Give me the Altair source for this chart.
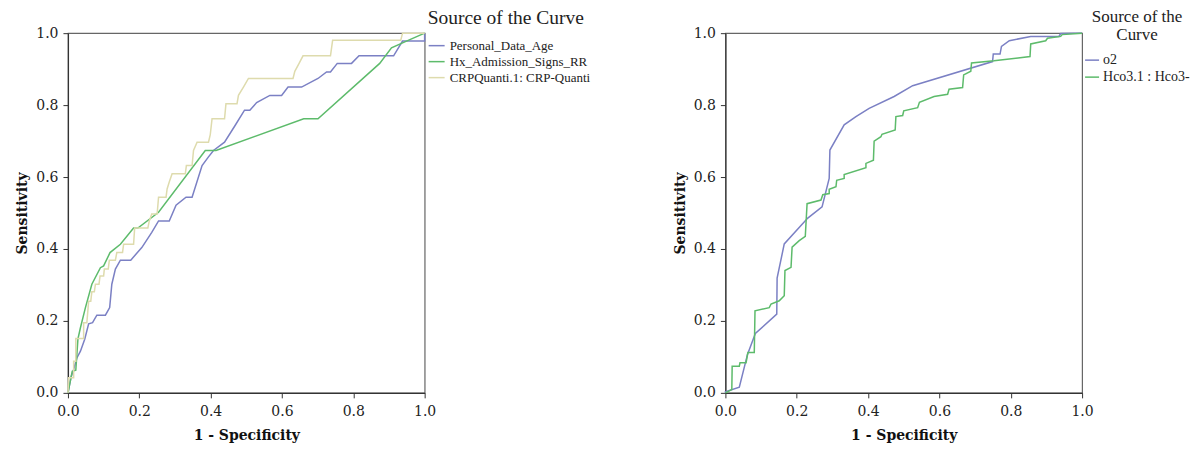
import altair as alt
import pandas as pd

# ---------------- Left panel data ----------------
left_names = ["Personal_Data_Age", "Hx_Admission_Signs_RR", "CRPQuanti.1: CRP-Quanti"]
left_colors = ["#7b80c4", "#5dbb6b", "#dedbad"]

age_fpr = [0, 0.009, 0.016, 0.025, 0.035, 0.047, 0.058, 0.069, 0.081, 0.105, 0.117, 0.123, 0.133, 0.147,
           0.176, 0.207, 0.235, 0.254, 0.284, 0.303, 0.331, 0.348, 0.376, 0.394, 0.408, 0.439, 0.469,
           0.495, 0.51, 0.529, 0.566, 0.599, 0.617, 0.655, 0.701, 0.725, 0.736, 0.755, 0.795, 0.816,
           0.913, 0.938, 1.0, 1.0]
age_tpr = [0, 0.045, 0.065, 0.097, 0.116, 0.149, 0.192, 0.195, 0.216, 0.216, 0.237, 0.302, 0.344, 0.369,
           0.369, 0.404, 0.446, 0.478, 0.478, 0.522, 0.544, 0.544, 0.632, 0.656, 0.674, 0.697, 0.744,
           0.786, 0.786, 0.807, 0.827, 0.827, 0.85, 0.85, 0.874, 0.892, 0.892, 0.916, 0.916, 0.937,
           0.937, 0.978, 0.978, 1.0]

rr_fpr = [0, 0.006, 0.012, 0.022, 0.028, 0.035, 0.049, 0.067, 0.091, 0.1, 0.118, 0.147, 0.184, 0.196,
          0.254, 0.385, 0.415, 0.661, 0.701, 0.874, 0.907, 0.949, 1.0]
rr_tpr = [0, 0.03, 0.06, 0.063, 0.15, 0.181, 0.237, 0.302, 0.348, 0.353, 0.39, 0.413, 0.458, 0.458,
          0.502, 0.674, 0.674, 0.762, 0.762, 0.916, 0.959, 0.978, 1.0]

crp_fpr = [0, 0.002, 0.016, 0.016, 0.022, 0.022, 0.044, 0.044, 0.053, 0.058, 0.064, 0.067, 0.074, 0.077,
           0.087, 0.09, 0.1, 0.102, 0.113, 0.116, 0.133, 0.137, 0.153, 0.156, 0.184, 0.187, 0.224, 0.228,
           0.235, 0.25, 0.254, 0.275, 0.278, 0.284, 0.292, 0.329, 0.332, 0.348, 0.352, 0.362, 0.394,
           0.399, 0.404, 0.439, 0.443, 0.474, 0.478, 0.492, 0.506, 0.631, 0.636, 0.648, 0.659, 0.736,
           0.742, 0.933, 0.938, 1.0]
crp_tpr = [0, 0.042, 0.042, 0.088, 0.088, 0.151, 0.151, 0.195, 0.195, 0.255, 0.255, 0.281, 0.281, 0.302,
           0.302, 0.325, 0.325, 0.344, 0.344, 0.369, 0.369, 0.39, 0.39, 0.413, 0.413, 0.458, 0.458, 0.478,
           0.497, 0.497, 0.544, 0.544, 0.567, 0.586, 0.609, 0.609, 0.632, 0.632, 0.674, 0.697, 0.697,
           0.718, 0.762, 0.762, 0.804, 0.804, 0.827, 0.85, 0.874, 0.874, 0.894, 0.916, 0.937, 0.937,
           0.98, 0.98, 1.0, 1.0]

# ---------------- Right panel data ----------------
right_names = ["o2", "Hco3.1 : Hco3-"]
right_colors = ["#7b80c4", "#5dbb6b"]

o2_fpr = [0, 0.0, 0.039, 0.062, 0.084, 0.144, 0.145, 0.165, 0.231, 0.271, 0.291, 0.293, 0.333, 0.366,
          0.403, 0.473, 0.525, 0.749, 0.751, 0.77, 0.774, 0.796, 0.856, 0.935, 0.94, 0.977, 1.0]
o2_tpr = [0, 0.003, 0.016, 0.107, 0.165, 0.219, 0.319, 0.414, 0.486, 0.517, 0.596, 0.675, 0.745, 0.768,
          0.791, 0.824, 0.854, 0.921, 0.942, 0.942, 0.963, 0.979, 0.991, 0.991, 0.999, 1.0, 1.0]

hco3_fpr = [0, 0.018, 0.019, 0.039, 0.041, 0.058, 0.063, 0.081, 0.083, 0.123, 0.128, 0.151, 0.165, 0.167,
            0.184, 0.187, 0.207, 0.224, 0.229, 0.268, 0.273, 0.291, 0.291, 0.31, 0.312, 0.333, 0.333,
            0.394, 0.394, 0.415, 0.417, 0.436, 0.439, 0.476, 0.478, 0.497, 0.5, 0.539, 0.544, 0.585,
            0.623, 0.627, 0.665, 0.668, 0.688, 0.69, 0.753, 0.854, 0.856, 0.898, 0.903, 0.94, 0.944, 1.0]
hco3_tpr = [0, 0.009, 0.074, 0.074, 0.084, 0.084, 0.112, 0.112, 0.228, 0.237, 0.247, 0.256, 0.27, 0.34,
            0.349, 0.405, 0.423, 0.435, 0.526, 0.536, 0.551, 0.554, 0.566, 0.573, 0.591, 0.596, 0.607,
            0.626, 0.638, 0.647, 0.7, 0.712, 0.719, 0.731, 0.768, 0.771, 0.784, 0.793, 0.808, 0.824,
            0.83, 0.844, 0.849, 0.884, 0.894, 0.917, 0.923, 0.935, 0.97, 0.979, 0.986, 0.991, 0.996, 1.0]

tick_values = [0.0, 0.2, 0.4, 0.6, 0.8, 1.0]


def frame(fpr, tpr, name):
    return pd.DataFrame({"fpr": fpr, "tpr": tpr, "curve": name, "idx": list(range(len(fpr)))})


left_df = pd.concat([frame(age_fpr, age_tpr, left_names[0]),
                     frame(rr_fpr, rr_tpr, left_names[1]),
                     frame(crp_fpr, crp_tpr, left_names[2])])
right_df = pd.concat([frame(o2_fpr, o2_tpr, right_names[0]),
                      frame(hco3_fpr, hco3_tpr, right_names[1])])

TICK_FONT = "DejaVu Serif"
TITLE_FONT = "DejaVu Serif"
LEG_FONT = "Liberation Serif"


def panel(df, names, colors, legend):
    return alt.Chart(df).mark_line(strokeWidth=1.5).encode(
        x=alt.X("fpr:Q", scale=alt.Scale(domain=[0, 1], nice=False),
                axis=alt.Axis(values=tick_values, format=".1f", title="1 - Specificity", grid=False,
                              labelPadding=7, titlePadding=10)),
        y=alt.Y("tpr:Q", scale=alt.Scale(domain=[0, 1], nice=False),
                axis=alt.Axis(values=tick_values, format=".1f", title="Sensitivity", grid=False,
                              labelPadding=5, titlePadding=6)),
        color=alt.Color("curve:N", scale=alt.Scale(domain=names, range=colors), legend=legend),
        order=alt.Order("idx:Q"),
    ).properties(width=357, height=360)


left_legend = alt.Legend(title="Source of the Curve", orient="none", legendX=360, legendY=-24,
                         symbolType="stroke", symbolSize=256, symbolStrokeWidth=1.5,
                         titleFont=LEG_FONT, titleFontSize=19.5, titleFontWeight="normal", titleColor="#222",
                         titlePadding=8, labelFont=LEG_FONT, labelFontSize=13, labelColor="#222",
                         rowPadding=0, labelOffset=4, labelLimit=300, titleLimit=400)
right_legend = alt.Legend(title=["Source of the", "Curve"], orient="none", legendX=359, legendY=-24,
                          symbolType="stroke", symbolSize=196, symbolStrokeWidth=1.5,
                          titleFont=LEG_FONT, titleFontSize=17, titleFontWeight="normal", titleColor="#222",
                          titleAnchor="middle", titleAlign="center", titleLineHeight=18,
                          titlePadding=8, labelFont=LEG_FONT, labelFontSize=14, labelColor="#222",
                          rowPadding=2, labelOffset=3, labelLimit=300, titleLimit=400)

left = panel(left_df, left_names, left_colors, left_legend)
right = panel(right_df, right_names, right_colors, right_legend)

chart = alt.hconcat(left, right, spacing=81).resolve_scale(
    color="independent"
).resolve_legend(
    color="independent"
).configure_view(
    stroke="#666", strokeWidth=1.2
).configure_axis(
    labelFont=TICK_FONT, labelFontSize=14, labelColor="#222",
    titleFont=TITLE_FONT, titleFontSize=14, titleFontWeight="bold", titleColor="#111",
    domainColor="#333", domainWidth=1.2, tickColor="#333", tickSize=5,
    labelFlush=False
).properties(padding={"left": 7, "top": 0, "right": 0, "bottom": 0})

chart.save("out.html", embed_options={"renderer": "svg", "actions": False})
